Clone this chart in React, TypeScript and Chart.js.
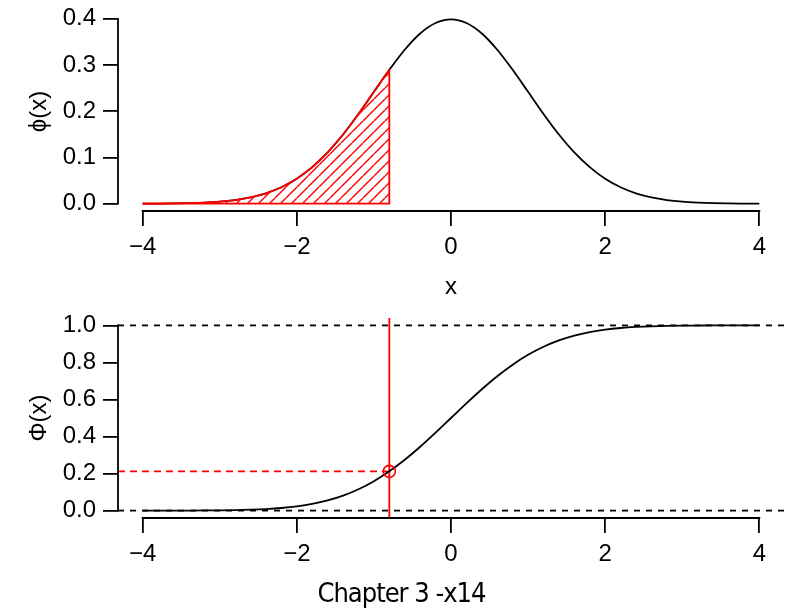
import React, { useEffect, useRef } from "react";
import { Chart, registerables } from "chart.js";

Chart.register(...registerables);

// ---------- data ----------
const X_VALUES = [
  -4, -3.8, -3.6, -3.4, -3.2, -3, -2.8, -2.6, -2.4, -2.2, -2, -1.8, -1.6, -1.4,
  -1.2, -1, -0.8, -0.6, -0.4, -0.2, 0, 0.2, 0.4, 0.6, 0.8, 1, 1.2, 1.4, 1.6,
  1.8, 2, 2.2, 2.4, 2.6, 2.8, 3, 3.2, 3.4, 3.6, 3.8, 4,
];
const PDF_VALUES = [
  0.0001, 0.0003, 0.0006, 0.0012, 0.0024, 0.0044, 0.0079, 0.0136, 0.0224,
  0.0355, 0.054, 0.079, 0.1109, 0.1497, 0.1942, 0.242, 0.2897, 0.3332, 0.3683,
  0.391, 0.3989, 0.391, 0.3683, 0.3332, 0.2897, 0.242, 0.1942, 0.1497, 0.1109,
  0.079, 0.054, 0.0355, 0.0224, 0.0136, 0.0079, 0.0044, 0.0024, 0.0012, 0.0006,
  0.0003, 0.0001,
];
const CDF_VALUES = [
  0.0, 0.0001, 0.0002, 0.0003, 0.0007, 0.0013, 0.0026, 0.0047, 0.0082, 0.0139,
  0.0228, 0.0359, 0.0548, 0.0808, 0.1151, 0.1587, 0.2119, 0.2743, 0.3446,
  0.4207, 0.5, 0.5793, 0.6554, 0.7257, 0.7881, 0.8413, 0.8849, 0.9192, 0.9452,
  0.9641, 0.9772, 0.9861, 0.9918, 0.9953, 0.9974, 0.9987, 0.9993, 0.9997,
  0.9998, 0.9999, 1.0,
];
const SHADE_X = [
  -4, -3.8, -3.6, -3.4, -3.2, -3, -2.8, -2.6, -2.4, -2.2, -2, -1.8, -1.6, -1.4,
  -1.2, -1, -0.8,
];
const SHADE_PDF = [
  0.0001, 0.0003, 0.0006, 0.0012, 0.0024, 0.0044, 0.0079, 0.0136, 0.0224,
  0.0355, 0.054, 0.079, 0.1109, 0.1497, 0.1942, 0.242, 0.2897,
];
const CUT_X = -0.8;
const CUT_PDF = 0.2897;
const CUT_CDF = 0.2119;
const REF_LEVELS = [0, 1];

const X_TICKS = [-4, -2, 0, 2, 4];
const PDF_TICKS = [0, 0.1, 0.2, 0.3, 0.4];
const CDF_TICKS = [0, 0.2, 0.4, 0.6, 0.8, 1.0];

const X_LIM = [-4.32, 4.32];
const PDF_LIM = [-0.0158, 0.4148];
const CDF_LIM = [-0.04, 1.04];

const TOP_LABEL = "ϕ(x)";
const BOTTOM_LABEL = "Φ(x)";
const X_LABEL = "x";
const FOOTER = "Chapter 3 -x14";

// ---------- styling ----------
const FONT = "'Liberation Sans', Arial, Helvetica, sans-serif";
const LW = 1.8;

const fmtX = (v: number) => (v < 0 ? "\u2212" + Math.abs(v) : String(v));
const fmtY = (v: number) => Number(v).toFixed(1);

function makeScale(
  ticks: number[],
  lim: number[],
  fmt: (v: number) => string,
  size: { width?: number; height?: number },
  title: any
) {
  return {
    type: "linear",
    min: lim[0],
    max: lim[1],
    border: { display: false },
    grid: {
      display: true,
      drawOnChartArea: false,
      drawTicks: true,
      tickLength: 15,
      color: "#000",
      lineWidth: LW,
    },
    ticks: {
      color: "#000",
      font: { family: FONT, size: 24, lineHeight: 1.2 },
      padding: 7,
      autoSkip: false,
      maxRotation: 0,
      minRotation: 0,
      callback: (v: any) => fmt(Number(v)),
    },
    title,
    afterBuildTicks: (scale: any) => {
      scale.ticks = ticks.map((v) => ({ value: v }));
    },
    afterFit: (scale: any) => {
      if (size.width !== undefined) scale.width = size.width;
      if (size.height !== undefined) scale.height = size.height;
      scale.paddingTop = 0;
      scale.paddingBottom = 0;
      scale.paddingLeft = 0;
      scale.paddingRight = 0;
    },
  };
}

// R-style axis lines: only from first to last tick
const rAxisPlugin = {
  id: "rAxis",
  afterDraw(chart: any) {
    const { ctx, chartArea } = chart;
    const xs = chart.scales.x;
    const ys = chart.scales.y;
    const xt = xs.ticks;
    const yt = ys.ticks;
    ctx.save();
    ctx.strokeStyle = "#000";
    ctx.lineWidth = LW;
    ctx.lineCap = "square";
    ctx.beginPath();
    ctx.moveTo(xs.getPixelForValue(xt[0].value), chartArea.bottom);
    ctx.lineTo(xs.getPixelForValue(xt[xt.length - 1].value), chartArea.bottom);
    ctx.moveTo(chartArea.left, ys.getPixelForValue(yt[0].value));
    ctx.lineTo(chartArea.left, ys.getPixelForValue(yt[yt.length - 1].value));
    ctx.stroke();
    ctx.restore();
  },
};

const refLinesPlugin = {
  id: "refLines",
  beforeDatasetsDraw(chart: any) {
    const { ctx, chartArea } = chart;
    const { left, right, top, bottom } = chartArea;
    const xs = chart.scales.x;
    const ys = chart.scales.y;
    ctx.save();
    ctx.beginPath();
    ctx.rect(left, top, right - left, bottom - top);
    ctx.clip();
    ctx.lineWidth = LW;
    ctx.strokeStyle = "#000";
    ctx.setLineDash([6, 6]);
    REF_LEVELS.forEach((v) => {
      const y = ys.getPixelForValue(v);
      ctx.beginPath();
      ctx.moveTo(left, y);
      ctx.lineTo(right, y);
      ctx.stroke();
    });
    const xc = xs.getPixelForValue(CUT_X);
    const yc = ys.getPixelForValue(CUT_CDF);
    ctx.strokeStyle = "#ff0000";
    ctx.setLineDash([7, 5]);
    ctx.beginPath();
    ctx.moveTo(left, yc);
    ctx.lineTo(xc, yc);
    ctx.stroke();
    ctx.setLineDash([]);
    ctx.beginPath();
    ctx.moveTo(xc, top);
    ctx.lineTo(xc, bottom);
    ctx.stroke();
    ctx.restore();
  },
};

function makeHatch(): CanvasPattern | string {
  const s = 11;
  const c = document.createElement("canvas");
  c.width = s;
  c.height = s;
  const g = c.getContext("2d");
  if (!g) return "rgba(255,0,0,0.2)";
  g.strokeStyle = "#ff0000";
  g.lineWidth = 1.4;
  for (let k = -1; k <= 1; k++) {
    g.beginPath();
    g.moveTo(k * s, s);
    g.lineTo(k * s + s, 0);
    g.stroke();
  }
  const p = g.createPattern(c, "repeat");
  return p || "rgba(255,0,0,0.2)";
}

const pts = (xs: number[], ys: number[]) => xs.map((x, i) => ({ x, y: ys[i] }));

export default function App() {
  const topRef = useRef<HTMLCanvasElement | null>(null);
  const botRef = useRef<HTMLCanvasElement | null>(null);

  useEffect(() => {
    if (!topRef.current || !botRef.current) return;
    const hatch = makeHatch();

    const topChart = new Chart(topRef.current, {
      type: "scatter",
      data: {
        datasets: [
          {
            data: pts(SHADE_X, SHADE_PDF),
            showLine: true,
            borderColor: "#ff0000",
            borderWidth: LW,
            backgroundColor: hatch as any,
            fill: "origin",
            pointRadius: 0,
            tension: 0,
          },
          {
            data: [
              { x: CUT_X, y: CUT_PDF },
              { x: CUT_X, y: 0 },
              { x: SHADE_X[0], y: 0 },
            ],
            showLine: true,
            borderColor: "#ff0000",
            borderWidth: LW,
            fill: false,
            pointRadius: 0,
            tension: 0,
          },
          {
            data: pts(X_VALUES, PDF_VALUES),
            showLine: true,
            borderColor: "#000",
            borderWidth: LW,
            fill: false,
            pointRadius: 0,
            cubicInterpolationMode: "monotone",
          },
        ],
      } as any,
      options: {
        animation: false,
        responsive: false,
        devicePixelRatio: 1,
        layout: { padding: { top: 12, right: 11, left: 0, bottom: 0 } },
        plugins: { legend: { display: false }, tooltip: { enabled: false } },
        scales: {
          x: makeScale(X_TICKS, X_LIM, fmtX, { height: 94 }, {
            display: true,
            text: X_LABEL,
            color: "#000",
            font: { family: FONT, size: 24, lineHeight: 1.2 },
            padding: { top: 0, bottom: 3 },
          }),
          y: makeScale(PDF_TICKS, PDF_LIM, fmtY, { width: 118 }, {
            display: true,
            text: TOP_LABEL,
            color: "#000",
            font: { family: FONT, size: 24, lineHeight: 1.2 },
            padding: { top: 25, bottom: 0 },
          }),
        },
      } as any,
      plugins: [rAxisPlugin],
    });

    const botChart = new Chart(botRef.current, {
      type: "scatter",
      data: {
        datasets: [
          {
            data: [{ x: CUT_X, y: CUT_CDF }],
            showLine: false,
            pointRadius: 6,
            pointStyle: "circle",
            pointBorderColor: "#ff0000",
            pointBackgroundColor: "rgba(0,0,0,0)",
            pointBorderWidth: 1.6,
          },
          {
            data: pts(X_VALUES, CDF_VALUES),
            showLine: true,
            borderColor: "#000",
            borderWidth: LW,
            fill: false,
            pointRadius: 0,
            cubicInterpolationMode: "monotone",
          },
        ],
      } as any,
      options: {
        animation: false,
        responsive: false,
        devicePixelRatio: 1,
        layout: { padding: { top: 13, right: 11, left: 0, bottom: 0 } },
        plugins: { legend: { display: false }, tooltip: { enabled: false } },
        scales: {
          x: makeScale(X_TICKS, X_LIM, fmtX, { height: 93 }, { display: false }),
          y: makeScale(CDF_TICKS, CDF_LIM, fmtY, { width: 118 }, {
            display: true,
            text: BOTTOM_LABEL,
            color: "#000",
            font: { family: FONT, size: 24, lineHeight: 1.2 },
            padding: { top: 25, bottom: 0 },
          }),
        },
      } as any,
      plugins: [rAxisPlugin, refLinesPlugin],
    });

    return () => {
      topChart.destroy();
      botChart.destroy();
    };
  }, []);

  return (
    <div
      style={{
        position: "fixed",
        left: 0,
        top: 0,
        width: 795,
        height: 611,
        background: "#fff",
        overflow: "hidden",
      }}
    >
      <canvas
        ref={topRef}
        width={795}
        height={305}
        style={{ position: "absolute", left: 0, top: 0, width: 795, height: 305 }}
      />
      <canvas
        ref={botRef}
        width={795}
        height={306}
        style={{ position: "absolute", left: 0, top: 305, width: 795, height: 306 }}
      />
      <div
        style={{
          position: "absolute",
          left: 0,
          width: 803,
          top: 579,
          textAlign: "center",
          fontFamily: "'DejaVu Sans Condensed', 'Liberation Sans', sans-serif",
          fontSize: 27,
          letterSpacing: -1,
          lineHeight: 1,
          color: "#000",
          whiteSpace: "pre",
        }}
      >
        {FOOTER}
      </div>
    </div>
  );
}
